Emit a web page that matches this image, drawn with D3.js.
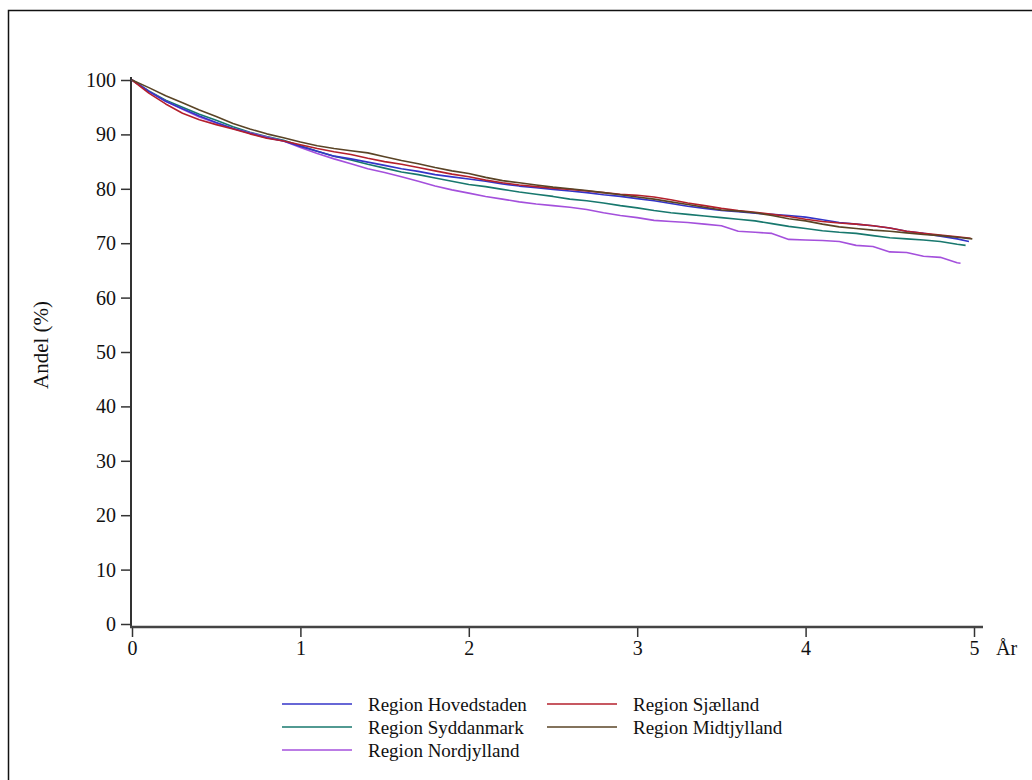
<!DOCTYPE html>
<html><head><meta charset="utf-8">
<script src="https://cdn.jsdelivr.net/npm/d3@7"></script>
<style>body{margin:0;background:#fff}</style>
</head><body><svg id="c" width="1032" height="780"></svg>
<script>
// ---- data ----
const times = [0,0.1,0.2,0.3,0.4,0.5,0.6,0.7,0.8,0.9,1.0,1.1,1.2,1.3,1.4,1.5,1.6,1.7,1.8,1.9,2.0,2.1,2.2,2.3,2.4,2.5,2.6,2.7,2.8,2.9,3.0,3.1,3.2,3.3,3.4,3.5,3.6,3.7,3.8,3.9,4.0,4.1,4.2,4.3,4.4,4.5,4.6,4.7,4.8,4.9];
const seriesNames = ["Region Hovedstaden","Region Sjælland","Region Syddanmark","Region Midtjylland","Region Nordjylland"];
const seriesColors = ["#3434c8","#b4202c","#18786e","#5a4426","#a450dc"];
const hovedstaden = [100,97.9,96.1,94.7,93.4,92.2,91.1,90.2,89.4,88.8,87.8,86.9,86.0,85.5,84.9,84.3,83.7,83.2,82.6,82.2,81.8,81.4,80.9,80.5,80.2,79.9,79.6,79.3,78.9,78.6,78.2,77.8,77.3,76.8,76.4,76.0,75.8,75.5,75.3,75.1,74.8,74.3,73.8,73.5,73.2,72.8,72.2,71.8,71.3,70.8];
const sjaelland = [100,97.6,95.6,93.9,92.7,91.8,91.0,90.1,89.3,88.8,88.1,87.4,86.8,86.3,85.6,85.0,84.5,83.9,83.3,82.7,82.2,81.6,81.1,80.7,80.4,80.1,79.9,79.6,79.3,79.0,78.8,78.5,78.0,77.4,76.9,76.4,76.0,75.7,75.3,74.9,74.4,74.0,73.7,73.5,73.2,72.8,72.2,71.8,71.5,71.2];
const syddanmark = [100,98.0,96.3,95.0,93.7,92.6,91.4,90.4,89.6,88.9,87.9,86.9,86.0,85.3,84.5,83.8,83.1,82.6,82.0,81.4,80.8,80.4,79.9,79.4,79.0,78.6,78.1,77.8,77.4,76.9,76.5,76.0,75.6,75.3,75.0,74.7,74.4,74.1,73.6,73.1,72.7,72.3,72.0,71.8,71.4,71.0,70.8,70.6,70.3,69.8];
const midtjylland = [100,98.6,97.1,95.8,94.5,93.3,92.0,91.0,90.1,89.4,88.6,87.9,87.4,87.0,86.6,85.9,85.2,84.6,83.9,83.3,82.8,82.1,81.5,81.1,80.7,80.3,80.0,79.7,79.3,78.9,78.5,78.1,77.6,77.1,76.6,76.1,75.9,75.6,75.1,74.5,74.1,73.5,73.0,72.7,72.4,72.2,71.9,71.6,71.4,71.1];
const nordjylland = [100,97.9,96.1,94.6,93.2,92.1,91.1,90.3,89.5,88.8,87.6,86.5,85.5,84.6,83.7,83.0,82.2,81.4,80.5,79.8,79.2,78.6,78.1,77.6,77.2,76.9,76.6,76.2,75.6,75.1,74.7,74.2,74.0,73.8,73.5,73.2,72.2,72.0,71.8,70.7,70.6,70.5,70.3,69.6,69.4,68.4,68.3,67.6,67.4,66.4];
const endTimes = [4.97,4.98,4.95,4.99,4.92];
const endValues = [70.3,70.9,69.6,70.8,66.3];
const xTicks = [0,1,2,3,4,5];
const yTicks = [0,10,20,30,40,50,60,70,80,90,100];
const xLabel = "År";
const yLabel = "Andel (%)";

const allValues = [hovedstaden, sjaelland, syddanmark, midtjylland, nordjylland];

// ---- drawing ----
const svg = d3.select("#c");
const FONT = "'Liberation Serif','Times New Roman',serif";

svg.append("rect").attr("x",8.5).attr("y",10.5).attr("width",1100).attr("height",1000)
  .attr("fill","none").attr("stroke","#111").attr("stroke-width",1.5);

const x = d3.scaleLinear().domain([0,5]).range([132,974]);
const y = d3.scaleLinear().domain([0,100]).range([624,80]);

// axes
const yAx = svg.append("g").attr("transform","translate(131,0)")
  .call(d3.axisLeft(y).tickValues(yTicks).tickSize(10).tickPadding(5).tickFormat(d3.format("d")));
yAx.select(".domain").remove();
yAx.selectAll("line").attr("stroke","#333").attr("stroke-width",1.5);
yAx.selectAll("text").attr("font-family",FONT).attr("font-size",20).attr("fill","#111");

const xAx = svg.append("g").attr("transform","translate(0,627)")
  .call(d3.axisBottom(x).tickValues(xTicks).tickSize(10).tickFormat(d3.format("d")));
xAx.select(".domain").remove();
xAx.selectAll("line").attr("stroke","#333").attr("stroke-width",1.5);
xAx.selectAll("text").attr("dy",null).attr("y",28).attr("font-family",FONT).attr("font-size",20).attr("fill","#111");

svg.append("line").attr("x1",131).attr("x2",131).attr("y1",77).attr("y2",628)
  .attr("stroke","#333").attr("stroke-width",2);
svg.append("line").attr("x1",130).attr("x2",983).attr("y1",627).attr("y2",627)
  .attr("stroke","#444").attr("stroke-width",2.5);

svg.append("text").attr("x",996).attr("y",655).attr("font-family",FONT).attr("font-size",20)
  .attr("fill","#111").text(xLabel);
svg.append("text").attr("transform","translate(48,345) rotate(-90)").attr("text-anchor","middle")
  .attr("font-family",FONT).attr("font-size",21).attr("fill","#111").text(yLabel);

// lines
const line = d3.line().x(d=>x(d[0])).y(d=>y(d[1])).curve(d3.curveLinear);
const plotOrder = [2,4,0,1,3];
plotOrder.forEach(i=>{
  const pts = times.map((t,k)=>[t, allValues[i][k]]);
  pts.push([endTimes[i], endValues[i]]);
  svg.append("path").datum(pts).attr("d",line).attr("fill","none")
    .attr("stroke",seriesColors[i]).attr("stroke-width",1.6).attr("stroke-linejoin","round");
});

// legend
const legPos = [[282,704],[547,704],[282,727],[547,727],[282,750]];
seriesNames.forEach((n,i)=>{
  const [lx,ly] = legPos[i];
  svg.append("line").attr("x1",lx).attr("x2",lx+70).attr("y1",ly).attr("y2",ly)
    .attr("stroke",seriesColors[i]).attr("stroke-width",1.6);
  svg.append("text").attr("x",lx+86).attr("y",ly).attr("dy","0.35em")
    .attr("font-family",FONT).attr("font-size",19).attr("fill","#111").text(n);
});
</script></body></html>
